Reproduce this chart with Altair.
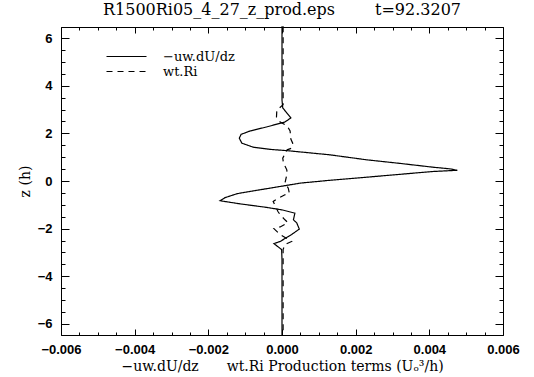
import altair as alt
import pandas as pd

SERIES = ["\u2212uw.dU/dz", "wt.Ri"]

# -uw.dU/dz profile (z in h, value in U^3/h)
uw_z = [6.5, 3.4, 3.07, 2.9, 2.65, 2.48, 2.27, 2.1, 1.96, 1.8, 1.59, 1.42, 1.33, 1.27,
        1.1, 0.89, 0.74, 0.58, 0.51, 0.45, 0.4, 0.28, 0.16, 0.03, -0.09, -0.23, -0.37,
        -0.51, -0.54, -0.7, -0.83, -0.96, -1.1, -1.21, -1.35, -1.63, -1.76, -2.02, -2.25,
        -2.54, -2.63, -2.88, -3.3, -6.5]
uw_val = [0.0, 0.0, 0.00002, 0.00011, 0.00024, 0.00008, -0.00042, -0.00087, -0.00111,
          -0.00116, -0.00109, -0.00078, -0.00033, 0.00017, 0.0013, 0.0023, 0.0032, 0.0041,
          0.00456, 0.00476, 0.0041, 0.0032, 0.0023, 0.0013, 0.00049, -0.00005, -0.0006,
          -0.00114, -0.00123, -0.00155, -0.00168, -0.00114, -0.00046, -0.00001, 0.00035,
          0.00031, 0.0004, 0.00047, 0.00026, -0.00005, -0.00022, -0.00001, 0.0, 0.0]

# wt.Ri profile
ri_z = [6.5, 3.4, 3.2, 2.98, 2.69, 2.48, 2.32, 2.1, 1.76, 1.59, 1.38, 1.31, 0.96, 0.75,
        0.47, 0.33, -0.09, -0.3, -0.51, -0.58, -0.76, -0.86, -1.28, -1.42, -1.63, -1.75,
        -1.93, -2.0, -2.25, -2.54, -2.67, -2.88, -6.5]
ri_val = [0.00003, 0.00003, 0.00003, -0.00014, -0.00015, -0.00005, 0.00014, 0.00022,
          0.00024, 0.00029, 0.00026, 0.00014, 0.00002, 0.00004, 0.00013, 0.00014, 0.00008,
          0.00017, 0.0002, 0.00008, -0.00014, -0.00024, -0.00011, -0.00005, 0.00008,
          0.00016, -0.00005, -0.00022, -0.00005, 0.00026, 0.00008, 0.00003, 0.00003]

x_major = [-0.006, -0.004, -0.002, 0.0, 0.002, 0.004, 0.006]
x_minor = [round(-0.006 + 0.0005 * i, 4) for i in range(25)]
y_major = [-6, -4, -2, 0, 2, 4, 6]
y_minor = [-6 + 0.5 * i for i in range(25)]

TITLE = "R1500Ri05_4_27_z_prod.eps\u2003\u2003\u2002t=92.3207"
X_TITLE = "\u2212uw.dU/dz\u2003\u2003wt.Ri Production terms (U\u2092\u00b3/h)"
Y_TITLE = "z (h)"

rows = []
for i, (z, v) in enumerate(zip(uw_z, uw_val)):
    rows.append({"series": SERIES[0], "z": z, "val": v, "idx": i})
for i, (z, v) in enumerate(zip(ri_z, ri_val)):
    rows.append({"series": SERIES[1], "z": z, "val": v, "idx": i})
df = pd.DataFrame(rows)

xs = alt.Scale(domain=[-0.006, 0.006], nice=False, zero=False)
ys = alt.Scale(domain=[-6.47, 6.47], nice=False, zero=False)

SERIF = "DejaVu Serif"
SANS = "Liberation Sans"


def tick_axis(orient, values, size, **kw):
    base = dict(orient=orient, values=values, tickSize=size, offset=-size, domain=False,
                grid=False, labels=False, title=None, tickColor="black", tickWidth=1)
    base.update(kw)
    return alt.Axis(**base)


ax_bottom = tick_axis("bottom", x_major, 6, labels=True, format=".3f", labelFont=SANS,
                      labelFontSize=13, labelFontWeight="bold", labelColor="black",
                      labelPadding=8, labelFlush=False, labelOverlap=False, title=X_TITLE,
                      titleFont=SERIF, titleFontSize=14, titleFontWeight="normal",
                      titleColor="black", titleY=37, titleBaseline="middle")
ax_left = tick_axis("left", y_major, 8, labels=True, format="d", labelFont=SANS,
                    labelFontSize=13, labelFontWeight="bold", labelColor="black",
                    labelPadding=9, labelFlush=False, labelOverlap=False, title=Y_TITLE,
                    titleFont=SERIF, titleFontSize=14, titleFontWeight="normal",
                    titleColor="black", titleX=-44, titleBaseline="middle")

lines = alt.Chart(df).mark_line(color="black", strokeWidth=1.2).encode(
    x=alt.X("val:Q", scale=xs, axis=ax_bottom),
    y=alt.Y("z:Q", scale=ys, axis=ax_left),
    strokeDash=alt.StrokeDash(
        "series:N",
        scale=alt.Scale(domain=SERIES, range=[[1, 0], [6, 5]]),
        legend=alt.Legend(title=None, orient="none", legendX=59, legendY=23,
                          symbolType="M-4,0L4,0", symbolSize=100, symbolStrokeWidth=1.2,
                          symbolStrokeColor="black", symbolFillColor="transparent",
                          labelFont=SERIF, labelFontSize=13,
                          labelColor="black", labelOffset=30, padding=0, rowPadding=1),
    ),
    order=alt.Order("idx:Q"),
)


def ghost(xaxis, yaxis):
    return alt.Chart(df).mark_line(opacity=0).encode(
        x=alt.X("val:Q", scale=xs, axis=xaxis),
        y=alt.Y("z:Q", scale=ys, axis=yaxis),
        detail="series:N",
        order=alt.Order("idx:Q"),
    )


g1 = ghost(tick_axis("bottom", x_minor, 3), tick_axis("left", y_minor, 4))
g2 = ghost(tick_axis("top", x_major, 6), tick_axis("right", y_major, 8))
g3 = ghost(tick_axis("top", x_minor, 3), tick_axis("right", y_minor, 4))

chart = alt.layer(lines, g1, g2, g3).resolve_axis(
    x="independent", y="independent"
).properties(
    width=442, height=308,
    autosize=alt.AutoSizeParams(type="none"),
    padding={"left": 61, "top": 27, "right": 31, "bottom": 42},
    background="white",
    title=alt.Title(text=TITLE, font=SERIF, fontSize=16, fontWeight="normal",
                    color="black", anchor="middle", offset=6),
).configure_view(stroke="black", strokeWidth=1)

chart.save("out.html", embed_options={"renderer": "svg", "actions": False})
